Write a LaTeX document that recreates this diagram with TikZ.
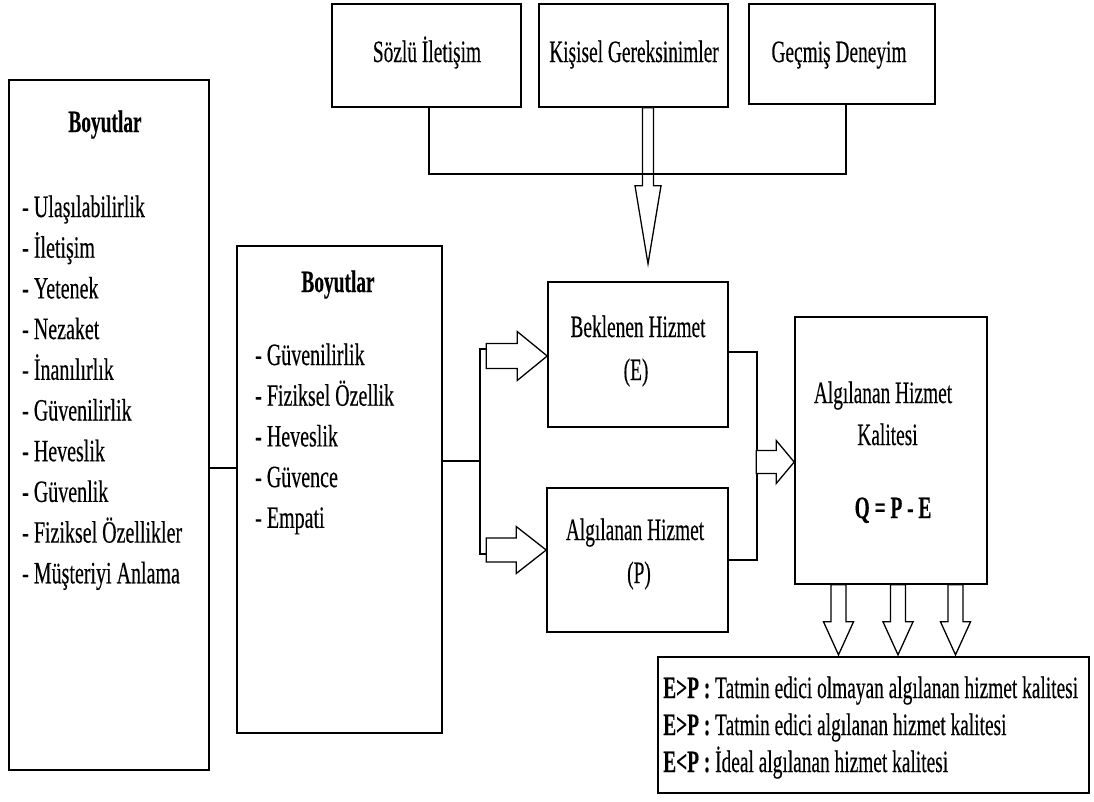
\documentclass[tikz,border=0pt]{standalone}
\usepackage{fontspec}
\setmainfont{Liberation Serif}[FakeBold=0.4]
\usepackage{graphicx}
\usetikzlibrary{calc}
\newcommand\sx[1]{\scalebox{0.625}[1]{#1}}
\newcommand\sy[1]{\scalebox{0.645}[1]{#1}}
% right-pointing hollow arrow: tail point, shaft half-height, shaft length, head half-height, head length
\newcommand\harr[5]{\draw[hol] (#1) ++(0,-#2) -- ++(#3,0) -- ++(0,#2-#4) -- ++(#5,#4) -- ++(-#5,#4) -- ++(0,#2-#4) -- ++(-#3,0) -- cycle;}
% down-pointing hollow arrow
\newcommand\darr[5]{\draw[hol] (#1) ++(-#2,0) -- ++(0,#3) -- ++(#2-#4,0) -- ++(#4,#5) -- ++(#4,-#5) -- ++(#2-#4,0) -- ++(0,-#3) -- cycle;}
\begin{document}
\begin{tikzpicture}[x=1pt,y=-1pt,
 box/.style={draw, line width=1.6pt, inner sep=0pt, fill=white},
 hol/.style={draw, line width=1.3pt, fill=white, line join=miter},
 con/.style={line width=1.6pt},
 lbl/.style={inner sep=0pt, anchor=base, font=\fontsize{31}{32}\selectfont},
 itm/.style={inner sep=0pt, anchor=base west, font=\fontsize{31}{32}\selectfont}]
\useasboundingbox (0,0) rectangle (1094,801);
\fill[white] (0,0) rectangle (1094,801);

% boxes
\node[box, minimum width=189pt, minimum height=103pt] (soz) at (426.5,55.5) {};
\node[box, minimum width=189pt, minimum height=103pt] (kis) at (633.5,55.5) {};
\node[box, minimum width=186pt, minimum height=100pt] (gec) at (842,54) {};
\node[box, minimum width=200pt, minimum height=690pt] (left) at (109,425) {};
\node[box, minimum width=205pt, minimum height=487pt] (mid) at (339.5,489.5) {};
\node[box, minimum width=180pt, minimum height=145pt] (bek) at (638,354.5) {};
\node[box, minimum width=181pt, minimum height=144pt] (alg) at (637.5,560) {};
\node[box, minimum width=192pt, minimum height=267pt] (res) at (891,450.5) {};
\node[box, minimum width=431pt, minimum height=136pt] (out) at (873.5,725) {};

% texts
\node[lbl] (sozT) at (427,62) {\sx{Sözlü İletişim}};
\node[lbl] (kisT) at (634,62) {\sx{Kişisel Gereksinimler}};
\node[lbl] (gecT) at (839,62) {\sx{Geçmiş Deneyim}};

\node[lbl] (lh) at (105,132) {\sx{\bfseries Boyutlar}};
\foreach \t [count=\i from 0] in {Ulaşılabilirlik, İletişim, Yetenek, Nezaket, İnanılırlık, Güvenilirlik, Heveslik, Güvenlik, Fiziksel Özellikler, Müşteriyi Anlama}
  \node[itm] (l\i) at (22,217+40.7*\i) {\sy{- \t}};

\node[lbl] (mh) at (338,292) {\sx{\bfseries Boyutlar}};
\foreach \t [count=\i from 0] in {Güvenilirlik, Fiziksel Özellik, Heveslik, Güvence, Empati}
  \node[itm] (m\i) at (255,365+40.7*\i) {\sy{- \t}};

\node[lbl] (bekT) at (638,337) {\sx{Beklenen Hizmet}};
\node[lbl] (bekE) at (636,380) {\sx{(E)}};
\node[lbl] (algT) at (635,540) {\sx{Algılanan Hizmet}};
\node[lbl] (algP) at (639,583) {\sx{(P)}};

\node[lbl] (resT1) at (883,403) {\sx{Algılanan Hizmet}};
\node[lbl] (resT2) at (887.5,445) {\sx{Kalitesi}};
\node[lbl] (resQ) at (893,518) {\sx{\bfseries Q = P - E}};

\node[lbl, anchor=base west] (o1) at (663,698) {\sx{\textbf{E>P :} Tatmin edici olmayan algılanan hizmet kalitesi}};
\node[lbl, anchor=base west] (o2) at (663,735) {\sx{\textbf{E>P :} Tatmin edici algılanan hizmet kalitesi}};
\node[lbl, anchor=base west] (o3) at (663,772) {\sx{\textbf{E<P :} İdeal algılanan hizmet kalitesi}};

% top hollow arrow into expected service
\coordinate (kt) at ($(kis.south)+(14.5,0)$);
\darr{kt}{5.5}{78}{13}{78}
% top connectors
\draw[con] (soz.south -| 429,0) -- ++(0,66) -| (gec.south -| 846,0);

% left to middle
\coordinate (j1) at (mid.west |- 0,468);
\draw[con] (left.east |- j1) -- (j1);

% middle to split
\coordinate (sp) at (480,461);
\coordinate (su) at (487,349);
\coordinate (sd) at (488,554);
\draw[con] (mid.east |- sp) -- (sp);
\draw[con] (su) -- (su -| sp) -- (sd -| sp) -- (sd);
\harr{$(bek.west)+(-61,1.5)$}{12.5}{31}{24.5}{30}
\harr{$(alg.west)+(-60,-10)$}{12}{30}{23.5}{30}

% to result
\draw[con] (bek.east |- 0,352) -- (757,352) coordinate (rj) -- (rj |- alg.east) -- (alg.east);
\harr{$(res.west)+(-38,11.5)$}{11.5}{20}{21.5}{18}

% result to outcomes
\darr{$(res.south)+(-52.5,0)$}{7.5}{37}{15}{33}
\darr{$(res.south)+(7,0)$}{7.5}{37}{15}{33}
\darr{$(res.south)+(64.5,0)$}{7.5}{37}{15}{33}
\end{tikzpicture}
\end{document}
